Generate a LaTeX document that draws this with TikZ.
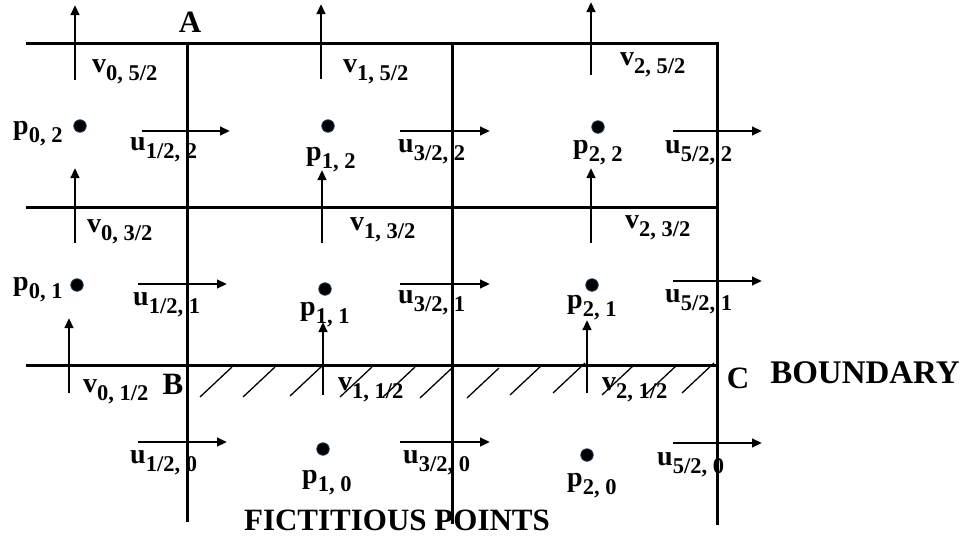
\documentclass[tikz,border=0pt]{standalone}
\usepackage{fontspec}
\setmainfont{Liberation Serif}
\usetikzlibrary{arrows.meta}
\newcommand\lab[2]{{\fontsize{28}{28}\selectfont #1}\raisebox{-8pt}{\fontsize{22.5}{22.5}\selectfont #2}}
\definecolor{dotedge}{RGB}{30,60,100}
\tikzset{
  gridline/.style={line width=3pt, line cap=rect},
  velarrow/.style={line width=2.6pt, -{Triangle[length=10pt,width=8.5pt]}},
  hatchline/.style={line width=1.3pt},
  lbl/.style={anchor=base west, inner sep=0pt, font=\bfseries},
  corner/.style={inner sep=0pt, font=\bfseries\fontsize{31}{31}\selectfont},
  bigtext/.style={inner sep=0pt, font=\bfseries\fontsize{31}{31}\selectfont},
  pdot/.style={circle, fill=black, draw=dotedge, line width=0.8pt, minimum size=12.5pt, inner sep=0pt}
}
\begin{document}
\begin{tikzpicture}[x=1pt,y=-1pt]
\useasboundingbox (0,0) rectangle (970,539);
% grid coordinates
\coordinate (h2l) at (27,43);  \coordinate (h2r) at (717,43);
\coordinate (h1l) at (27,207); \coordinate (h1r) at (717,207);
\coordinate (h0l) at (27,365); \coordinate (h0r) at (717,365);
\coordinate (c0t) at (187,43); \coordinate (c0b) at (187,520);
\coordinate (c1t) at (452,43); \coordinate (c1b) at (452,522);
\coordinate (c2b) at (717,523);
\draw[gridline] (h2l) -- (h2r) -- (c2b);
\draw[gridline] (h1l) -- (h1r);
\draw[gridline] (h0l) -- (h0r);
\draw[gridline] (c0t) -- (c0b);
\draw[gridline] (c1t) -- (c1b);
% hatching
\foreach \hx/\hy [count=\i] in {200/397,243/397,290/396,340/397,383/397,420/398,467/398,510/395,553/393,602/395,645/395,682/393}{
  \coordinate (hs\i) at (\hx,\hy);
  \coordinate (he\i) at (\hx+32,\hy-30);
  \draw[hatchline] (hs\i) -- (he\i);
}
% v arrows
\foreach \nm/\vx/\ya/\yb in {v05/75/80/5, v15/321/79/4, v25/591/75/2,
  v03/75/243/168, v13/322/243/170, v23/591/243/168,
  v01/69/393/318, v11/323/395/322, v21/587/393/320}{
  \coordinate (\nm s) at (\vx,\ya);
  \coordinate (\nm e) at (\vx,\yb);
  \draw[velarrow] (\nm s) -- (\nm e);
}
% u arrows
\foreach \nm/\xa/\xb/\uy in {u12/142/230/131, u32/400/490/131, u52/673/762/131,
  u11/138/227/284, u31/400/490/284, u51/673/762/281,
  u10/138/227/442, u30/400/490/442, u50/673/762/443}{
  \coordinate (\nm s) at (\xa,\uy);
  \coordinate (\nm e) at (\xb,\uy);
  \draw[velarrow] (\nm s) -- (\nm e);
}
% pressure points
\node[pdot] (P02) at (80,126) {};
\node[pdot] (P12) at (328,126) {};
\node[pdot] (P22) at (598,127) {};
\node[pdot] (P01) at (77,285) {};
\node[pdot] (P11) at (325,289) {};
\node[pdot] (P21) at (592,285) {};
\node[pdot] (P10) at (323,449) {};
\node[pdot] (P20) at (587,455) {};
% labels
\node[lbl] (Lv05) at (92,72)   {\lab{v}{0, 5/2}};
\node[lbl] (Lv15) at (343,72)  {\lab{v}{1, 5/2}};
\node[lbl] (Lv25) at (620,65)  {\lab{v}{2, 5/2}};
\node[lbl] (Lp02) at (13,134)  {\lab{p}{0, 2}};
\node[lbl] (Lu12) at (130,150) {\lab{u}{1/2, 2}};
\node[lbl] (Lp12) at (306,160) {\lab{p}{1, 2}};
\node[lbl] (Lu32) at (398,152) {\lab{u}{3/2, 2}};
\node[lbl] (Lp22) at (573,153) {\lab{p}{2, 2}};
\node[lbl] (Lu52) at (665,153) {\lab{u}{5/2, 2}};
\node[lbl] (Lv03) at (87,232)  {\lab{v}{0, 3/2}};
\node[lbl] (Lv13) at (350,230) {\lab{v}{1, 3/2}};
\node[lbl] (Lv23) at (625,228) {\lab{v}{2, 3/2}};
\node[lbl] (Lp01) at (13,290)  {\lab{p}{0, 1}};
\node[lbl] (Lu11) at (133,305) {\lab{u}{1/2, 1}};
\node[lbl] (Lp11) at (300,315) {\lab{p}{1, 1}};
\node[lbl] (Lu31) at (398,303) {\lab{u}{3/2, 1}};
\node[lbl] (Lp21) at (567,308) {\lab{p}{2, 1}};
\node[lbl] (Lu51) at (665,302) {\lab{u}{5/2, 1}};
\node[lbl] (Lv01) at (83,392)  {\lab{v}{0, 1/2}};
\node[lbl] (Lv11) at (338,390) {\lab{v}{1, 1/2}};
\node[lbl] (Lv21) at (602,390) {\lab{v}{2, 1/2}};
\node[lbl] (Lu10) at (130,463) {\lab{u}{1/2, 0}};
\node[lbl] (Lp10) at (302,483) {\lab{p}{1, 0}};
\node[lbl] (Lu30) at (403,463) {\lab{u}{3/2, 0}};
\node[lbl] (Lp20) at (567,486) {\lab{p}{2, 0}};
\node[lbl] (Lu50) at (657,465) {\lab{u}{5/2, 0}};
% corner letters and captions
\node[corner] (A) at (190,22.5) {A};
\node[corner] (B) at (173,384.5) {B};
\node[corner] (C) at (738,378) {C};
\node[bigtext, font=\bfseries\fontsize{33}{33}\selectfont] (bnd) at (865,373) {BOUNDARY};
\node[bigtext] (fict) at (397,520) {FICTITIOUS POINTS};
\end{tikzpicture}
\end{document}
